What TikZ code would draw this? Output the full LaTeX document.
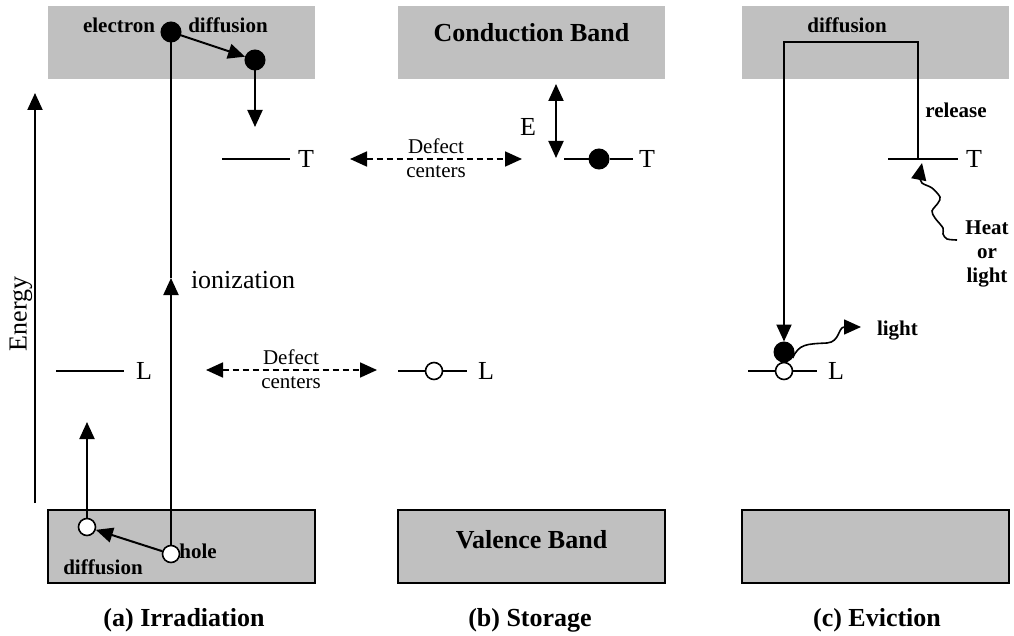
\documentclass[tikz,border=0pt]{standalone}
\usepackage{fontspec}
\setmainfont{Liberation Serif}
\usetikzlibrary{arrows.meta,positioning}
\definecolor{bandgray}{RGB}{192,192,192}
\tikzset{
  band/.style={rectangle,fill=bandgray,minimum width=267pt,minimum height=73pt,inner sep=0pt},
  vband/.style={band,draw,line width=2pt},
  elec/.style={circle,draw,fill=black,minimum size=20pt,inner sep=0pt,line width=1pt},
  hol/.style={circle,draw,fill=white,minimum size=17pt,inner sep=0pt,line width=1.6pt},
  txt/.style={font=\fontsize{26}{28}\selectfont,inner sep=0pt},
  btxt/.style={font=\fontsize{26}{28}\selectfont\bfseries,inner sep=0pt},
  stxt/.style={font=\fontsize{21}{24}\selectfont,inner sep=0pt,align=center},
  sbtxt/.style={font=\fontsize{21}{24}\selectfont\bfseries,inner sep=0pt,align=center},
  arr/.style={-{Triangle[length=17pt,width=15pt]}},
  dbl/.style={{Triangle[length=17pt,width=15pt]}-{Triangle[length=17pt,width=15pt]}},
  defarr/.style={dbl,dash pattern=on 6pt off 4pt,line width=1.8pt},
  wave/.style={arr,line width=1.6pt},
}
\begin{document}
\begin{tikzpicture}[x=1pt,y=-1pt,line width=2pt]
\useasboundingbox (0,0) rectangle (1014,636);
% bands
\node[band] (cbA) at (181.5,42.5) {};
\node[band] (cbB) at (531.5,42.5) {};
\node[band] (cbC) at (875.5,42.5) {};
\node[vband] (vbA) at (181.5,546.5) {};
\node[vband] (vbB) at (531.5,546.5) {};
\node[vband] (vbC) at (875.5,546.5) {};

% energy axis
\coordinate (en0) at (35,503);
\coordinate (en1) at (35,93);
\draw[arr] (en0) -- (en1);
\node[txt,rotate=90] (energy) at (21,314) {Energy};

% (a) irradiation
\node[elec] (e1) at (171,32) {};
\node[elec] (e2) at (255,60) {};
\node[hol] (h1) at (171,554) {};
\node[hol] (h2) at (87,527) {};
\coordinate (ion) at (171,278);
\coordinate (e2tip) at (255,127);
\coordinate (h2tip) at (87,422);
\draw (ion) -- (e1);
\draw[arr] (h1) -- (ion);
\draw[arr] (e1) -- (e2);
\draw[arr] (e2) -- (e2tip);
\draw[arr] (h1) -- (h2);
\draw[arr] (h2) -- (h2tip);
\node[sbtxt] (elA) at (119,25) {electron};
\node[sbtxt] (dfA) at (228,25) {diffusion};
\node[sbtxt] (hlA) at (198,551) {hole};
\node[sbtxt] (dfA2) at (103,567) {diffusion};
\node[txt,anchor=west] (ionA) at (190,280) {ionization};
\coordinate (Ta1) at (222,159);
\coordinate (Ta2) at (290,159);
\draw (Ta1) -- (Ta2);
\node[txt,right=7pt of Ta2] (TA) {T};
\coordinate (La1) at (56,371);
\coordinate (La2) at (124,371);
\draw (La1) -- (La2);
\node[txt,right=11pt of La2] (LA) {L};

% defect centers
\coordinate (dT1) at (350,159);
\coordinate (dT2) at (522,159);
\draw[defarr] (dT1) -- (dT2);
\node[stxt] (dcT) at (436,158) {Defect\\centers};
\coordinate (dL1) at (206,370);
\coordinate (dL2) at (377,370);
\draw[defarr] (dL1) -- (dL2);
\node[stxt] (dcL) at (291,369) {Defect\\centers};

% (b) storage
\node[btxt] (cbtxt) at ([yshift=9.5pt]cbB) {Conduction Band};
\node[btxt] (vbtxt) at ([yshift=6.5pt]vbB) {Valence Band};
\coordinate (Eup) at (556,84);
\coordinate (Edn) at (556,158);
\draw[dbl] (Eup) -- (Edn);
\node[txt] (EB) at (528,127) {E};
\coordinate (Tb1) at (564,159);
\coordinate (Tb2) at (633,159);
\node[elec] (eB) at (599,159) {};
\draw (Tb1) -- (eB) -- (Tb2);
\node[txt,right=5pt of Tb2] (TB) {T};
\coordinate (Lb1) at (398,371);
\coordinate (Lb2) at (467,371);
\node[hol] (hB) at (434,371) {};
\draw (Lb1) -- (hB) -- (Lb2);
\node[txt,right=10pt of Lb2] (LB) {L};

% (c) eviction
\coordinate (Tc1) at (888,159);
\coordinate (Tc2) at (958,159);
\draw (Tc1) -- (Tc2);
\node[txt,right=7pt of Tc2] (TC) {T};
\coordinate (rel) at (918,159);
\coordinate (difc) at (784,42);
\node[elec] (eC) at (784,352) {};
\node[hol] (hC) at (784,371) {};
\coordinate (Lc1) at (748,371);
\coordinate (Lc2) at (817,371);
\draw (Lc1) -- (hC) -- (Lc2);
\node[txt,right=10pt of Lc2] (LC) {L};
\draw[arr] (rel) |- (difc) -| (eC);
\node[sbtxt] (dfC) at (847,25) {diffusion};
\node[sbtxt] (relC) at (956,110) {release};
\node[sbtxt] (heat) at (987,254) {Heat\\or\\light};
\coordinate (hw) at (957,240);
\coordinate (hitT) at (922,163);
\draw[wave] plot[smooth] coordinates {(hw) (947,239) (943,234) (943,228) (935,218) (932,211) (938,203) (940,197) (932,188) (922,183) (920,176) (hitT)};
\node[sbtxt,anchor=west] (lightC) at (876,331) {light};
\coordinate (ltip) at (861,327);
\draw[wave] (eC.-35) .. controls (799,344) and (806,344) .. (827,343) .. controls (840,342) and (838,327) .. (ltip);

% captions
\node[btxt] (capA) at (184,620) {(a) Irradiation};
\node[btxt] (capB) at (530,620) {(b) Storage};
\node[btxt] (capC) at (877,620) {(c) Eviction};
\end{tikzpicture}
\end{document}
